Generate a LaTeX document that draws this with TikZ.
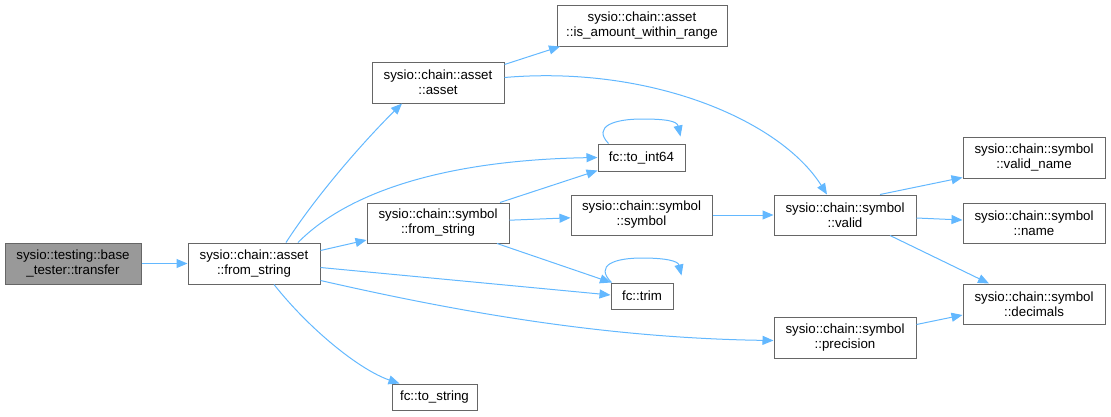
\documentclass[tikz,border=0pt]{standalone}
\usepackage{fontspec}
\setmainfont{Liberation Sans}
\usetikzlibrary{arrows.meta}
\definecolor{edgeblue}{HTML}{63B8FF}
\definecolor{boxgray}{HTML}{666666}
\definecolor{fillgray}{HTML}{999999}
\begin{document}
\begin{tikzpicture}[x=1pt,y=-1pt,
  box/.style={draw=boxgray,line width=1pt,fill=white,inner sep=0pt,align=center,
    font=\fontsize{13.3}{15}\selectfont},
  hl/.style={box,fill=fillgray},
  edge/.style={draw=edgeblue,line width=1pt,-{Triangle[length=11pt,width=9pt]}}]
\useasboundingbox (0,0) rectangle (1111,416);
\node[hl,minimum width=136,minimum height=41] (tr) at (73,263.5) {sysio::testing::base\\\_tester::transfer};
\node[box,minimum width=132,minimum height=41] (afs) at (254,263.5) {sysio::chain::asset\\::from\_string};
\node[box,minimum width=132,minimum height=41] (aa) at (438,82.5) {sysio::chain::asset\\::asset};
\node[box,minimum width=170,minimum height=41] (iar) at (642,25.5) {sysio::chain::asset\\::is\_amount\_within\_range};
\node[box,minimum width=87,minimum height=27] (ti) at (641.5,157.5) {fc::to\_int64};
\node[box,minimum width=142,minimum height=40] (sfs) at (438,223) {sysio::chain::symbol\\::from\_string};
\node[box,minimum width=141,minimum height=40] (ss) at (641.5,215) {sysio::chain::symbol\\::symbol};
\node[box,minimum width=142,minimum height=40] (va) at (845,215) {sysio::chain::symbol\\::valid};
\node[box,minimum width=62,minimum height=26] (trim) at (642,296) {fc::trim};
\node[box,minimum width=142,minimum height=41] (pr) at (845,337.5) {sysio::chain::symbol\\::precision};
\node[box,minimum width=85,minimum height=26] (ts) at (434.5,397) {fc::to\_string};
\node[box,minimum width=142,minimum height=41] (vn) at (1034,157.5) {sysio::chain::symbol\\::valid\_name};
\node[box,minimum width=142,minimum height=40] (nm) at (1034,223) {sysio::chain::symbol\\::name};
\node[box,minimum width=142,minimum height=40] (dc) at (1034,304) {sysio::chain::symbol\\::decimals};

\draw[edge] (tr) -- (afs);
\draw[edge] ([xshift=32]afs.north) .. controls (320,190) and (370,135) .. ([xshift=-36]aa.south);
\draw[edge] ([xshift=44]afs.north) .. controls (350,190) and (450,160) .. (ti.west);
\draw[edge] ([yshift=13]afs.east) -- ([yshift=-17]sfs.west);
\draw[edge] ([yshift=-4]afs.east) -- ([yshift=1]trim.west);
\draw[edge] ([yshift=-17]afs.east) .. controls (450,310) and (600,338) .. ([yshift=-3]pr.west);
\draw[edge] ([xshift=20]afs.south) .. controls (310,330) and (360,370) .. ([xshift=-35]ts.north);
\draw[edge] ([yshift=18]aa.east) -- ([xshift=-82]iar.south);
\draw[edge] ([yshift=5]aa.east) .. controls (650,65) and (780,120) .. ([xshift=-18]va.north);
\draw[edge] ([xshift=62]sfs.north) -- ([yshift=-13]ti.west);
\draw[edge] (sfs) -- (ss);
\draw[edge] ([xshift=59]sfs.south) -- ([xshift=-31]trim.north);
\draw[edge] (ss) -- (va);
\draw[edge] ([xshift=35]va.north) -- ([yshift=-20]vn.west);
\draw[edge] ([yshift=-3]va.east) -- ([yshift=3]nm.west);
\draw[edge] ([xshift=45]va.south) -- ([xshift=-45]dc.north);
\draw[edge] ([yshift=13]pr.east) -- ([yshift=-11]dc.west);
\draw[edge] ([xshift=-33]ti.north) .. controls (592,126) and (615,119) .. (642,119)
  .. controls (666,119) and (677,121) .. ([xshift=-5,yshift=7]ti.north east);
\draw[edge] ([xshift=1]trim.north west) .. controls (594,265) and (615,258) .. (642,258)
  .. controls (666,258) and (678,261) .. ([xshift=8,yshift=7]trim.north east);
\end{tikzpicture}
\end{document}
